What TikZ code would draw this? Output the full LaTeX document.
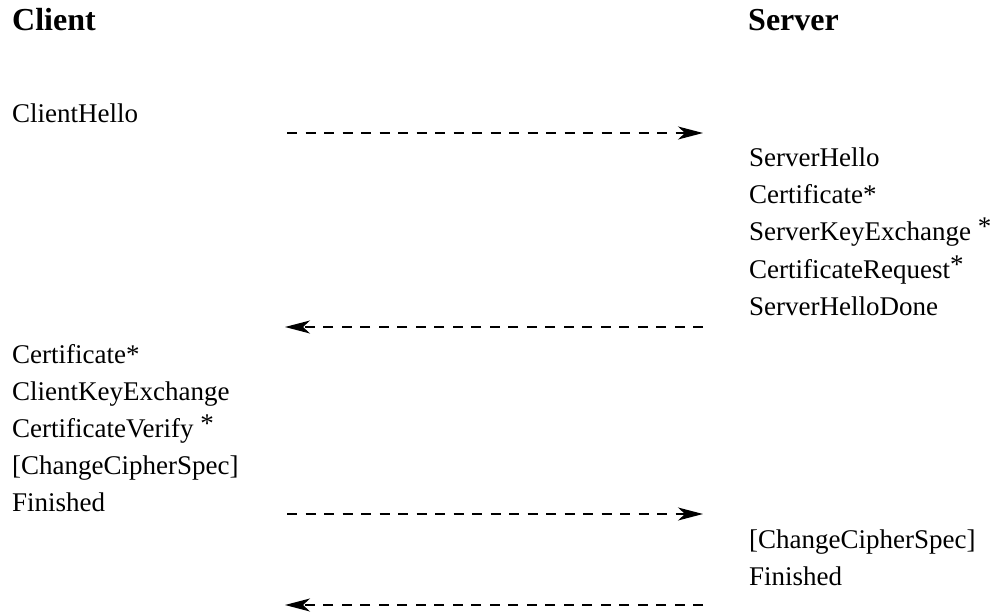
\documentclass[tikz,border=0pt]{standalone}
\usepackage{fontspec}
\setmainfont{Liberation Serif}
\usetikzlibrary{arrows.meta}
\newcommand{\raisedstar}{\raisebox{5pt}{*}}
\begin{document}
\begin{tikzpicture}[x=1pt,y=-1pt,
  msg/.style={anchor=base west,inner sep=0pt,font=\fontsize{27}{32}\selectfont},
  party/.style={anchor=base west,inner sep=0pt,font=\fontsize{32}{38}\selectfont\bfseries},
  flow/.style={line width=1.4pt,dash pattern=on 10pt off 8.5pt,
    -{Stealth[length=25pt,width=13pt,inset=7pt]}}]
\useasboundingbox (0,0) rectangle (996,613);

% column headings
\node[party] (client) at (12,30) {Client};
\node[party] (server) at (748,30) {Server};

% first flight from the client
\node[msg] (chello) at (12,122) {ClientHello};

% server reply
\node[msg] (shello) at (749,166) {ServerHello};
\node[msg] (scert)  at (749,203) {Certificate*};
\node[msg] (ske)    at (749,240) {ServerKeyExchange \raisedstar};
\node[msg] (creq)   at (749,278) {CertificateRequest\raisedstar};
\node[msg] (sdone)  at (749,315) {ServerHelloDone};

% second client flight
\node[msg] (ccert)  at (12,363) {Certificate*};
\node[msg] (cke)    at (12,400) {ClientKeyExchange};
\node[msg] (cver)   at (12,437) {CertificateVerify \raisedstar};
\node[msg] (cccs)   at (12,474) {[ChangeCipherSpec]};
\node[msg] (cfin)   at (12,511) {Finished};

% final server flight
\node[msg] (sccs)   at (749,548) {[ChangeCipherSpec]};
\node[msg] (sfin)   at (749,585) {Finished};

% arrow end points
\coordinate (a1l) at (287,133); \coordinate (a1r) at (703,133);
\coordinate (a2l) at (285,327); \coordinate (a2r) at (703,327);
\coordinate (a3l) at (287,514); \coordinate (a3r) at (703,514);
\coordinate (a4l) at (285,605); \coordinate (a4r) at (703,605);

\draw[flow] (a1l) -- (a1r);
\draw[flow] (a2r) -- (a2l);
\draw[flow] (a3l) -- (a3r);
\draw[flow] (a4r) -- (a4l);
\end{tikzpicture}
\end{document}
